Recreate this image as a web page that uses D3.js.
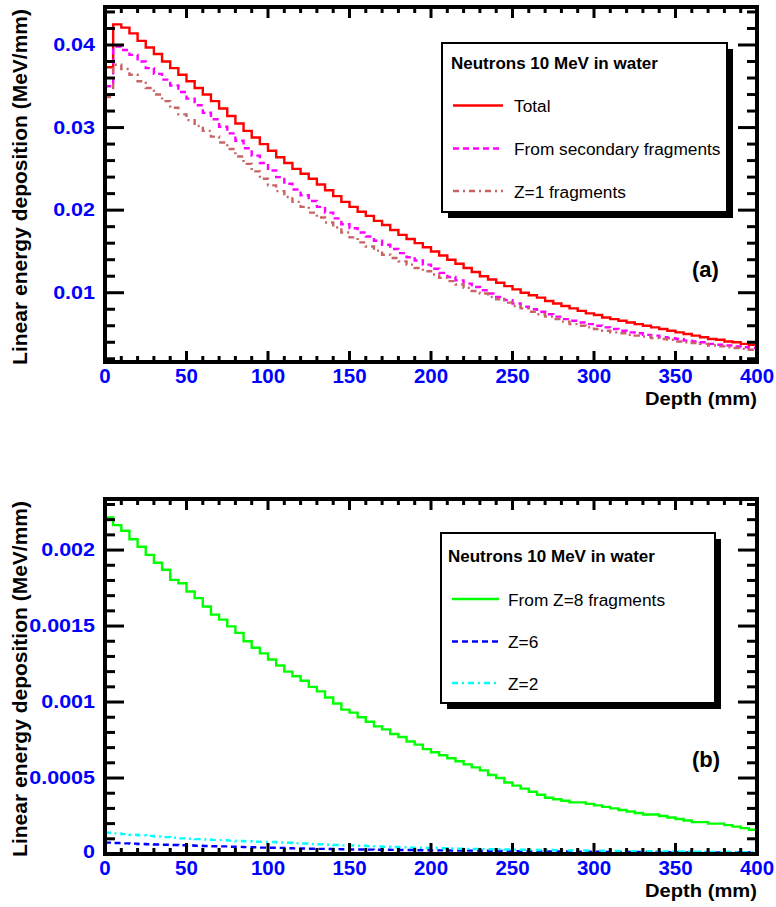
<!DOCTYPE html>
<html>
<head>
<meta charset="utf-8">
<script src="https://cdn.jsdelivr.net/npm/d3@7"></script>
<style>
  html, body { margin: 0; padding: 0; background: #fff; }
  svg { display: block; }
  text { font-family: "Liberation Sans", Arial, Helvetica, sans-serif; }
</style>
</head>
<body>
<svg id="chart" width="776" height="907"></svg>
<script>
// ---------------- DATA ----------------
const depthEdges = d3.range(0, 405, 5); // histogram bin edges, mm (80 bins)

const xTickValues = [0, 50, 100, 150, 200, 250, 300, 350, 400];
const xTickLabels = ["0", "50", "100", "150", "200", "250", "300", "350", "400"];

const yTicksA = [0.01, 0.02, 0.03, 0.04];
const yTickLabelsA = ["0.01", "0.02", "0.03", "0.04"];
const yTicksB = [0, 0.0005, 0.001, 0.0015, 0.002];
const yTickLabelsB = ["0", "0.0005", "0.001", "0.0015", "0.002"];

const legendTitle = "Neutrons 10 MeV in water";
const seriesNamesA = ["Total", "From secondary fragments", "Z=1 fragments"];
const seriesNamesB = ["From Z=8 fragments", "Z=6", "Z=2"];

// (a) Total
const totalDep = [
  0.0373, 0.0425, 0.0421, 0.0414, 0.0405, 0.0397, 0.0389, 0.0380, 0.0372, 0.0364,
  0.0356, 0.0348, 0.0340, 0.0332, 0.0323, 0.0314, 0.0305, 0.0296, 0.0288, 0.0280,
  0.0272, 0.0264, 0.0257, 0.0250, 0.0244, 0.0238, 0.0231, 0.0224, 0.0217, 0.0210,
  0.0204, 0.0198, 0.0193, 0.0187, 0.0182, 0.0176, 0.0170, 0.0165, 0.0160, 0.0155,
  0.0150, 0.0145, 0.0140, 0.0135, 0.0130, 0.0125, 0.0120, 0.0116, 0.0112, 0.0108,
  0.0104, 0.0100, 0.0097, 0.0094, 0.0090, 0.0087, 0.0084, 0.0081, 0.0078, 0.0075,
  0.0073, 0.0070, 0.0068, 0.0066, 0.0064, 0.0062, 0.0060, 0.0058, 0.0056, 0.0054,
  0.0052, 0.0050, 0.0048, 0.0046, 0.0044, 0.0043, 0.0041, 0.0040, 0.0038, 0.0037
];
// (a) From secondary fragments
const secondaryDep = [
  0.0350, 0.0398, 0.0394, 0.0388, 0.0380, 0.0372, 0.0365, 0.0358, 0.0351, 0.0343,
  0.0335, 0.0327, 0.0318, 0.0310, 0.0301, 0.0293, 0.0284, 0.0275, 0.0266, 0.0257,
  0.0248, 0.0240, 0.0232, 0.0225, 0.0218, 0.0211, 0.0204, 0.0197, 0.0190, 0.0183,
  0.0178, 0.0173, 0.0168, 0.0163, 0.0158, 0.0153, 0.0148, 0.0143, 0.0139, 0.0134,
  0.0129, 0.0124, 0.0119, 0.0115, 0.0111, 0.0107, 0.0103, 0.0099, 0.0095, 0.0091,
  0.0087, 0.0083, 0.0080, 0.0077, 0.0074, 0.0071, 0.0068, 0.0066, 0.0064, 0.0062,
  0.0060, 0.0058, 0.0056, 0.0054, 0.0052, 0.0051, 0.0049, 0.0048, 0.0046, 0.0045,
  0.0044, 0.0042, 0.0041, 0.0040, 0.0038, 0.0037, 0.0036, 0.0035, 0.0034, 0.0033
];
// (a) Z=1 fragments
const z1Dep = [
  0.0337, 0.0376, 0.0371, 0.0364, 0.0356, 0.0348, 0.0340, 0.0332, 0.0324, 0.0316,
  0.0309, 0.0302, 0.0296, 0.0289, 0.0282, 0.0274, 0.0265, 0.0256, 0.0247, 0.0238,
  0.0230, 0.0223, 0.0216, 0.0210, 0.0204, 0.0197, 0.0191, 0.0185, 0.0179, 0.0173,
  0.0167, 0.0161, 0.0156, 0.0151, 0.0146, 0.0142, 0.0138, 0.0134, 0.0130, 0.0126,
  0.0122, 0.0118, 0.0114, 0.0110, 0.0106, 0.0102, 0.0099, 0.0095, 0.0092, 0.0088,
  0.0084, 0.0081, 0.0077, 0.0074, 0.0071, 0.0068, 0.0065, 0.0062, 0.0060, 0.0058,
  0.0056, 0.0054, 0.0052, 0.0051, 0.0049, 0.0048, 0.0047, 0.0045, 0.0044, 0.0043,
  0.0041, 0.0040, 0.0039, 0.0038, 0.0036, 0.0035, 0.0034, 0.0033, 0.0032, 0.0031
];
// (b) From Z=8 fragments
const z8Dep = [
  0.002215, 0.002164, 0.002127, 0.002071, 0.002022, 0.001968, 0.001917, 0.001870, 0.001804, 0.001782,
  0.001727, 0.001684, 0.001629, 0.001575, 0.001542, 0.001498, 0.001455, 0.001400, 0.001357, 0.001320,
  0.001280, 0.001240, 0.001200, 0.001170, 0.001140, 0.001100, 0.001070, 0.001030, 0.000990, 0.000950,
  0.000930, 0.000900, 0.000870, 0.000840, 0.000820, 0.000790, 0.000770, 0.000740, 0.000720, 0.000690,
  0.000670, 0.000650, 0.000630, 0.000610, 0.000590, 0.000570, 0.000550, 0.000520, 0.000500, 0.000470,
  0.000450, 0.000430, 0.000410, 0.000390, 0.000370, 0.000360, 0.000350, 0.000340, 0.000340, 0.000330,
  0.000320, 0.000310, 0.000300, 0.000290, 0.000280, 0.000270, 0.000260, 0.000260, 0.000250, 0.000240,
  0.000230, 0.000220, 0.000210, 0.000210, 0.000200, 0.000200, 0.000190, 0.000180, 0.000170, 0.000160
];
// (b) Z=6
const z6Dep = [
  0.000075, 0.000072, 0.000070, 0.000068, 0.000066, 0.000064, 0.000063, 0.000061, 0.000059, 0.000058,
  0.000056, 0.000054, 0.000053, 0.000051, 0.000050, 0.000048, 0.000047, 0.000045, 0.000044, 0.000042,
  0.000041, 0.000040, 0.000038, 0.000037, 0.000036, 0.000035, 0.000034, 0.000033, 0.000032, 0.000031,
  0.000030, 0.000030, 0.000029, 0.000028, 0.000028, 0.000027, 0.000026, 0.000026, 0.000025, 0.000025,
  0.000024, 0.000024, 0.000023, 0.000023, 0.000022, 0.000022, 0.000021, 0.000021, 0.000020, 0.000020,
  0.000019, 0.000019, 0.000018, 0.000018, 0.000017, 0.000017, 0.000016, 0.000016, 0.000015, 0.000015,
  0.000015, 0.000014, 0.000014, 0.000014, 0.000013, 0.000013, 0.000013, 0.000012, 0.000012, 0.000012,
  0.000012, 0.000011, 0.000011, 0.000011, 0.000011, 0.000010, 0.000010, 0.000010, 0.000010, 0.000010
];
// (b) Z=2
const z2Dep = [
  0.000140, 0.000136, 0.000131, 0.000127, 0.000123, 0.000119, 0.000115, 0.000111, 0.000107, 0.000103,
  0.000100, 0.000098, 0.000095, 0.000093, 0.000091, 0.000088, 0.000086, 0.000084, 0.000081, 0.000080,
  0.000079, 0.000076, 0.000074, 0.000071, 0.000069, 0.000066, 0.000064, 0.000061, 0.000059, 0.000057,
  0.000056, 0.000054, 0.000052, 0.000050, 0.000048, 0.000046, 0.000044, 0.000042, 0.000041, 0.000040,
  0.000039, 0.000038, 0.000036, 0.000035, 0.000034, 0.000033, 0.000032, 0.000031, 0.000031, 0.000030,
  0.000029, 0.000028, 0.000027, 0.000026, 0.000026, 0.000025, 0.000024, 0.000023, 0.000023, 0.000022,
  0.000022, 0.000021, 0.000020, 0.000020, 0.000019, 0.000019, 0.000018, 0.000018, 0.000017, 0.000016,
  0.000016, 0.000015, 0.000015, 0.000014, 0.000014, 0.000013, 0.000013, 0.000012, 0.000012, 0.000012
];

// ---------------- LAYOUT / STYLE ----------------
const svg = d3.select("#chart");
const FL = 105, FR = 757; // frame left/right
const BLUE = "#0000ff";

const panels = [
  {
    id: "a", top: 7, bottom: 362, yDomain: [0.00161, 0.0446],
    yTicks: yTicksA, yLabels: yTickLabelsA, minorStep: 0.002,
    series: [
      { values: totalDep, name: seriesNamesA[0], color: "#ff0000", dash: null, w: 2.4 },
      { values: secondaryDep, name: seriesNamesA[1], color: "#ff00ff", dash: "6,4", w: 2.4 },
      { values: z1Dep, name: seriesNamesA[2], color: "#c86464", dash: "6,4,2,4", w: 2.4 }
    ],
    legend: { x0: 442, y0: 43, x1: 727, y1: 212, titleX: 451, titleBase: 69,
              sx0: 453, sx1: 503, tx: 514, rows: [105.5, 148.5, 191] },
    tag: "(a)", tagY: 276.5
  },
  {
    id: "b", top: 499, bottom: 854, yDomain: [0, 0.002336],
    yTicks: yTicksB, yLabels: yTickLabelsB, minorStep: 0.0001,
    series: [
      { values: z8Dep, name: seriesNamesB[0], color: "#00ff00", dash: null, w: 2.4 },
      { values: z6Dep, name: seriesNamesB[1], color: "#0000ff", dash: "6,4", w: 2.4 },
      { values: z2Dep, name: seriesNamesB[2], color: "#00ffff", dash: "6,4,2,4", w: 2.4 }
    ],
    legend: { x0: 441, y0: 533, x1: 715, y1: 703, titleX: 448, titleBase: 562,
              sx0: 452, sx1: 499, tx: 508, rows: [599, 641.5, 683] },
    tag: "(b)", tagY: 766.5
  }
];

function stretchText(sel, sx) {
  sel.each(function () {
    const w = this.getComputedTextLength();
    d3.select(this).attr("textLength", w * sx).attr("lengthAdjust", "spacingAndGlyphs");
  });
}

panels.forEach(p => {
  const g = svg.append("g");
  const x = d3.scaleLinear().domain([0, 400]).range([FL, FR]);
  const y = d3.scaleLinear().domain(p.yDomain).range([p.bottom, p.top]);

  const clipId = "clip-" + p.id;
  svg.append("clipPath").attr("id", clipId)
    .append("rect").attr("x", FL).attr("y", p.top).attr("width", FR - FL).attr("height", p.bottom - p.top);

  // histogram step outlines
  const curves = g.append("g").attr("clip-path", `url(#${clipId})`);
  p.series.forEach(s => {
    let d = `M${x(depthEdges[0])},${y(s.values[0])}`;
    for (let i = 0; i < s.values.length; i++) {
      d += `H${x(depthEdges[i + 1])}`;
      if (i + 1 < s.values.length) d += `V${y(s.values[i + 1])}`;
    }
    curves.append("path").attr("d", d).attr("fill", "none")
      .attr("stroke", s.color).attr("stroke-width", s.w)
      .attr("stroke-dasharray", s.dash);
  });

  // ticks
  const tk = g.append("g").attr("stroke", "#000").attr("stroke-width", 3);
  // x ticks (bottom & top)
  const xMinor = d3.range(10, 400, 10).filter(v => v % 50 !== 0);
  xTickValues.forEach(v => {
    tk.append("line").attr("x1", x(v)).attr("x2", x(v)).attr("y1", p.bottom).attr("y2", p.bottom - 11);
    tk.append("line").attr("x1", x(v)).attr("x2", x(v)).attr("y1", p.top).attr("y2", p.top + 11);
  });
  xMinor.forEach(v => {
    tk.append("line").attr("x1", x(v)).attr("x2", x(v)).attr("y1", p.bottom).attr("y2", p.bottom - 6);
    tk.append("line").attr("x1", x(v)).attr("x2", x(v)).attr("y1", p.top).attr("y2", p.top + 6);
  });
  // y ticks (left & right)
  const nMin = Math.ceil(p.yDomain[0] / p.minorStep - 1e-6);
  const nMax = Math.floor(p.yDomain[1] / p.minorStep + 1e-6);
  d3.range(nMin, nMax + 1).forEach(k => {
    const v = k * p.minorStep;
    const isMajor = p.yTicks.some(t => Math.abs(t - v) < p.minorStep * 0.01);
    const len = isMajor ? 19 : 10;
    const yy = y(v);
    if (yy > p.bottom - 1 || yy < p.top + 1) return;
    tk.append("line").attr("x1", FL).attr("x2", FL + len).attr("y1", yy).attr("y2", yy);
    tk.append("line").attr("x1", FR).attr("x2", FR - len).attr("y1", yy).attr("y2", yy);
  });

  // frame
  g.append("rect").attr("x", FL).attr("y", p.top).attr("width", FR - FL).attr("height", p.bottom - p.top)
    .attr("fill", "none").attr("stroke", "#000").attr("stroke-width", 4);

  // x tick labels
  g.append("g").selectAll("text").data(xTickValues).join("text")
    .attr("x", d => x(d)).attr("y", p.bottom + 21)
    .attr("text-anchor", "middle").attr("font-size", 20.5).attr("font-weight", "bold")
    .attr("fill", BLUE).text((d, i) => xTickLabels[i]);

  // y tick labels
  const yl = g.append("g").selectAll("text").data(p.yTicks).join("text")
    .attr("x", 95).attr("y", d => Math.min(y(d) + 6, p.bottom + 4))
    .attr("text-anchor", "end").attr("font-size", 18.7).attr("font-weight", "bold")
    .attr("fill", BLUE).text((d, i) => p.yLabels[i]);
  stretchText(yl, 1.15);

  // axis titles
  const xt = g.append("text").attr("x", FR).attr("y", p.bottom + 43)
    .attr("text-anchor", "end").attr("font-size", 19).attr("font-weight", "bold")
    .attr("fill", "#000").text("Depth (mm)");
  xt.attr("textLength", 112).attr("lengthAdjust", "spacingAndGlyphs");

  g.append("text").attr("transform", `translate(27,${p.top + 2}) rotate(-90)`)
    .attr("text-anchor", "end").attr("font-size", 21).attr("font-weight", "bold")
    .attr("fill", "#000").text("Linear energy deposition (MeV/mm)");

  // panel tag
  g.append("text").attr("x", 692).attr("y", p.tagY)
    .attr("font-size", 22).attr("font-weight", "bold").attr("fill", "#000").text(p.tag);

  // legend
  const L = p.legend;
  const lg = g.append("g");
  lg.append("rect").attr("x", L.x0 + 6).attr("y", L.y0 + 6)
    .attr("width", L.x1 - L.x0).attr("height", L.y1 - L.y0).attr("fill", "#000");
  lg.append("rect").attr("x", L.x0).attr("y", L.y0)
    .attr("width", L.x1 - L.x0).attr("height", L.y1 - L.y0)
    .attr("fill", "#fff").attr("stroke", "#000").attr("stroke-width", 2);
  lg.append("text").attr("x", L.titleX).attr("y", L.titleBase)
    .attr("font-size", 17).attr("font-weight", "bold").attr("fill", "#000").text(legendTitle);
  p.series.forEach((s, i) => {
    const ry = L.rows[i];
    lg.append("line").attr("x1", L.sx0).attr("x2", L.sx1).attr("y1", ry).attr("y2", ry)
      .attr("stroke", s.color).attr("stroke-width", s.w).attr("stroke-dasharray", s.dash);
    lg.append("text").attr("x", L.tx).attr("y", ry + 6.5)
      .attr("font-size", 17.3).attr("fill", "#000").text(s.name);
  });
});
</script>
</body>
</html>
